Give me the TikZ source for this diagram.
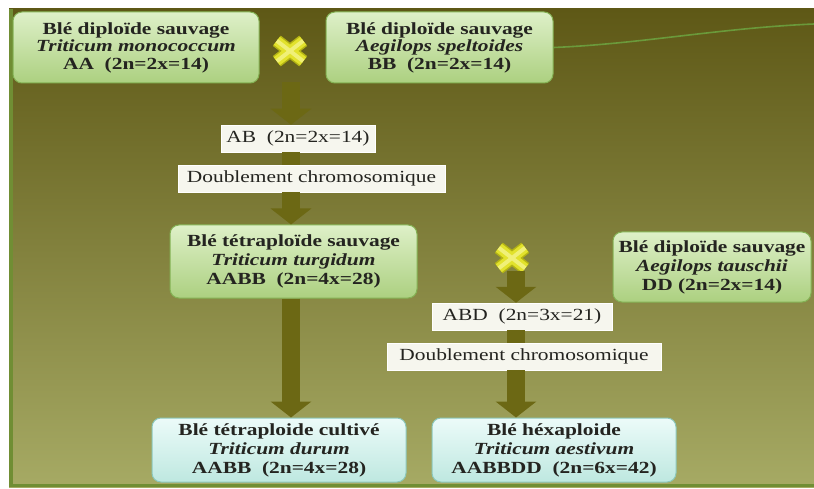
\documentclass[tikz,border=0pt]{standalone}
\usepackage{fontspec}
\setmainfont[FakeStretch=1.26]{Liberation Serif}
\usetikzlibrary{arrows.meta}

\definecolor{bgtop}{RGB}{94,88,22}
\definecolor{bgbot}{RGB}{166,170,100}
\definecolor{gtop}{RGB}{222,240,200}
\definecolor{gbot}{RGB}{172,208,128}
\definecolor{gedge}{RGB}{132,178,84}
\definecolor{ctop}{RGB}{236,251,249}
\definecolor{cbot}{RGB}{190,232,224}
\definecolor{cedge}{RGB}{140,200,188}
\definecolor{lbl}{RGB}{246,246,238}
\definecolor{arr}{RGB}{108,104,20}
\definecolor{txt}{RGB}{36,36,32}
\definecolor{xdark}{RGB}{180,180,20}
\definecolor{xyel}{RGB}{226,226,44}
\definecolor{xlight}{RGB}{240,240,120}
\definecolor{swoosh}{RGB}{110,175,70}
\definecolor{edgegreen}{RGB}{112,142,52}

\begin{document}
\begin{tikzpicture}[x=1pt,y=-1pt,
  greenbox/.style={rounded corners=9pt, top color=gtop, bottom color=gbot,
    draw=gedge, line width=1pt, align=center, text=txt, inner sep=0pt,
    font=\fontsize{17}{17.5}\selectfont\bfseries},
  cyanbox/.style={rounded corners=9pt, top color=ctop, bottom color=cbot,
    draw=cedge, line width=1pt, align=center, text=txt, inner sep=0pt,
    font=\fontsize{17}{19}\selectfont\bfseries},
  labelbox/.style={fill=lbl, draw=white, line width=0.5pt, text=txt, inner sep=0pt,
    font=\fontsize{17}{18}\selectfont},
  xnode/.style={minimum width=26pt, minimum height=20pt, inner sep=0pt},
  bigarrow/.style={draw=arr, line width=18pt, -{Triangle[width=40pt,length=16pt]}},
  shaft/.style={draw=arr, line width=18pt},
  xedge/.style={draw=xdark, line width=13pt},
  xfill/.style={draw=xyel, line width=10pt},
  xhigh/.style={draw=xlight, line width=4pt},
]
\useasboundingbox (0,0) rectangle (814,489);
\fill[white] (0,0) rectangle (814,489);
\fill[top color=bgtop, bottom color=bgbot] (9,9) rectangle (814,487);
\fill[edgegreen] (9,9) rectangle (13,487);
\fill[edgegreen] (9,484) rectangle (814,487);

% nodes
\node[greenbox, minimum width=246pt, minimum height=71pt] (b1) at (136,47.5)
  {Blé diploïde sauvage\\ \textit{Triticum monococcum}\\ AA\ \ (2n=2x=14)};
\node[greenbox, minimum width=227pt, minimum height=71pt] (b2) at (439.5,47.5)
  {Blé diploïde sauvage\\ \textit{Aegilops speltoides}\\ BB\ \ (2n=2x=14)};
\node[xnode] (x1) at (290,51) {};
\node[labelbox, minimum width=154pt, minimum height=27pt] (ab) at (298,138.5)
  {AB\ \ (2n=2x=14)};
\node[labelbox, minimum width=267pt, minimum height=27pt] (dbl1) at (311.5,178.5)
  {Doublement chromosomique};
\node[greenbox, font=\fontsize{17}{19}\selectfont\bfseries, minimum width=247pt, minimum height=73pt] (tet) at (293.5,261.5)
  {Blé tétraploïde sauvage\\ \textit{Triticum turgidum}\\ AABB\ \ (2n=4x=28)};
\node[greenbox, font=\fontsize{17}{19}\selectfont\bfseries, minimum width=198pt, minimum height=70pt] (dd) at (712,267)
  {Blé diploïde sauvage\\ \textit{Aegilops tauschii}\\ DD (2n=2x=14)};
\node[xnode] (x2) at (512,258) {};
\node[labelbox, minimum width=180pt, minimum height=27pt] (abd) at (522,316.5)
  {ABD\ \ (2n=3x=21)};
\node[labelbox, minimum width=274pt, minimum height=27pt] (dbl2) at (524,356.5)
  {Doublement chromosomique};
\node[cyanbox, minimum width=254pt, minimum height=64pt] (tcult) at (279,450)
  {Blé tétraploide cultivé\\ \textit{Triticum durum}\\ AABB\ \ (2n=4x=28)};
\node[cyanbox, minimum width=244pt, minimum height=64pt] (hex) at (554,450)
  {Blé héxaploide\\ \textit{Triticum aestivum}\\ AABBDD\ \ (2n=6x=42)};

\coordinate (c1) at (291,0);
\coordinate (c2) at (516,0);
\coordinate (swend) at (814,24);

% decorative swoosh
\draw[swoosh, line width=1.6pt, opacity=0.75] (b2.east) .. controls (640,44) and (720,28) .. (swend);

% crosses
\draw[xedge] (x1.north west) -- (x1.south east);
\draw[xedge] (x1.north east) -- (x1.south west);
\draw[xfill] (x1.north west) -- (x1.south east);
\draw[xfill] (x1.north east) -- (x1.south west);
\draw[xhigh] (x1.north west) -- (x1.south east);
\draw[xhigh] (x1.north east) -- (x1.south west);
\draw[xedge] (x2.north west) -- (x2.south east);
\draw[xedge] (x2.north east) -- (x2.south west);
\draw[xfill] (x2.north west) -- (x2.south east);
\draw[xfill] (x2.north east) -- (x2.south west);
\draw[xhigh] (x2.north west) -- (x2.south east);
\draw[xhigh] (x2.north east) -- (x2.south west);

% arrows, left column
\draw[bigarrow] ([yshift=-21pt]x1.south -| c1) -- (ab.north -| c1);
\draw[shaft] (ab.south -| c1) -- (dbl1.north -| c1);
\draw[bigarrow] (dbl1.south -| c1) -- (tet.north -| c1);
\draw[bigarrow] (tet.south -| c1) -- (tcult.north -| c1);
% arrows, right column
\draw[bigarrow] ([yshift=-3pt]x2.south -| c2) -- (abd.north -| c2);
\draw[shaft] (abd.south -| c2) -- (dbl2.north -| c2);
\draw[bigarrow] (dbl2.south -| c2) -- (hex.north -| c2);
\end{tikzpicture}
\end{document}
